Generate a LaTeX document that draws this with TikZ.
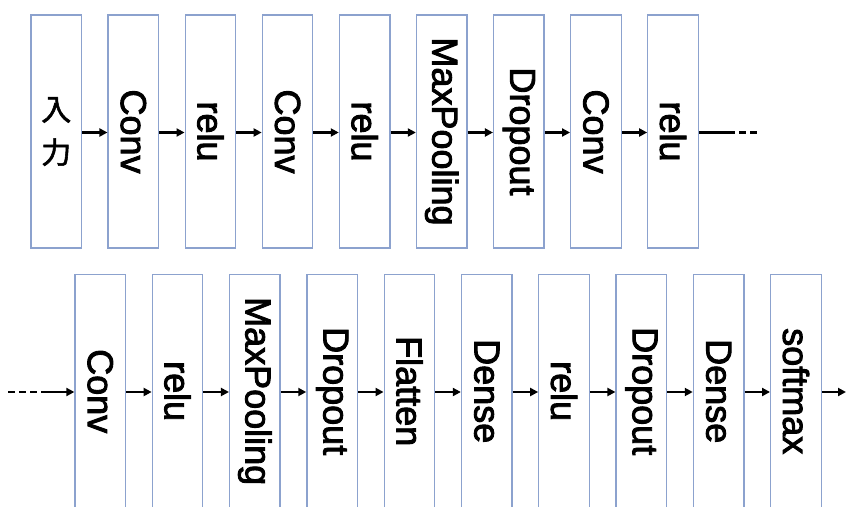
\documentclass[tikz,border=0pt]{standalone}
\usepackage{fontspec}
\setmainfont{Liberation Sans}[FakeBold=2.5]
\newfontfamily\cjkfont{Noto Sans CJK JP}[FakeBold=1.8]
\usetikzlibrary{arrows.meta}
\definecolor{boxblue}{RGB}{140,162,206}
\begin{document}
\begin{tikzpicture}[x=1pt,y=-1pt,
  layer/.style={draw=boxblue, line width=1.3pt, fill=white, rotate=-90,
    minimum width=233pt, minimum height=50.5pt, inner sep=0pt,
    font=\fontsize{36}{40}\selectfont},
  inbox/.style={draw=boxblue, line width=1.3pt, fill=white,
    minimum width=50.5pt, minimum height=233pt, inner sep=0pt, align=center,
    font=\cjkfont\fontsize{30}{43}\selectfont},
  conn/.style={line width=2.2pt, -{Triangle[length=8pt,width=8pt]}},
  plain/.style={line width=2.2pt},
  dashline/.style={line width=2.2pt, dash pattern=on 7pt off 4pt}
]
\clip (0,0) rectangle (846,506);
\fill[white] (0,0) rectangle (846,506);

% top row
\node[inbox] (t0) at (56.25,131.5) {入\\力};
\foreach \i/\t in {1/Conv,2/relu,3/Conv,4/relu,5/MaxPooling,6/Dropout,7/Conv,8/relu}
  \node[layer] (t\i) at ({56.25+77.1*\i},131.5) {\t};
\coordinate (ty) at (0,132.5);
\draw[conn] (t0.east |- ty) -- (t1.south |- ty);
\foreach \a/\b in {1/2,2/3,3/4,4/5,5/6,6/7,7/8}
  \draw[conn] (t\a.north |- ty) -- (t\b.south |- ty);
\coordinate (te1) at (728,132.5);
\coordinate (te2) at (757,132.5);
\draw[plain] (t8.north |- te1) -- (te1);
\draw[dashline] (te1) -- (te2);

% bottom row
\foreach \i/\t in {0/Conv,1/relu,2/MaxPooling,3/Dropout,4/Flatten,5/Dense,6/relu,7/Dropout,8/Dense,9/softmax}
  \node[layer] (b\i) at ({100.25+77.3*\i},391.2) {\t};
\coordinate (by) at (0,392);
\coordinate (bs1) at (8,392);
\coordinate (bs2) at (43,392);
\draw[dashline] (bs1) -- (bs2);
\draw[conn] (bs2) -- (b0.south |- bs2);
\foreach \a/\b in {0/1,1/2,2/3,3/4,4/5,5/6,6/7,7/8,8/9}
  \draw[conn] (b\a.north |- by) -- (b\b.south |- by);
\coordinate (bend) at (846,392);
\draw[conn] (b9.north |- bend) -- (bend);
\end{tikzpicture}
\end{document}
